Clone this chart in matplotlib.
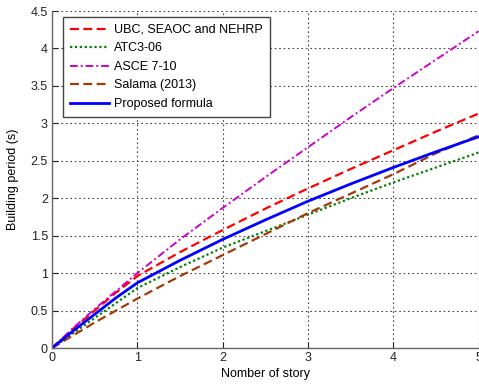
import matplotlib
matplotlib.use('Agg')
from matplotlib import pyplot as plt

plt.rcParams['font.family'] = ['Liberation Sans', 'DejaVu Sans']

stories = [0, 0.25, 0.5, 0.75, 1, 1.5, 2, 2.5, 3, 3.5, 4, 4.5, 5]

ubc = [0, 0.26, 0.50, 0.74, 0.96, 1.28, 1.575, 1.86, 2.13, 2.39, 2.64, 2.89, 3.13]
atc = [0, 0.20, 0.40, 0.60, 0.80, 1.08, 1.34, 1.56, 1.78, 2.00, 2.21, 2.41, 2.61]
asce = [0, 0.27, 0.52, 0.76, 1.00, 1.45, 1.87, 2.28, 2.68, 3.08, 3.47, 3.85, 4.23]
salama = [0, 0.17, 0.34, 0.50, 0.66, 0.96, 1.24, 1.52, 1.80, 2.06, 2.32, 2.60, 2.84]
proposed = [0, 0.23, 0.45, 0.67, 0.87, 1.17, 1.45, 1.71, 1.96, 2.19, 2.41, 2.62, 2.82]

labels = ['UBC, SEAOC and NEHRP', 'ATC3-06', 'ASCE 7-10', 'Salama (2013)', 'Proposed formula']

fig = plt.figure(figsize=(4.79, 3.85), dpi=100)
ax = fig.add_axes([0.1086, 0.0961, 0.8904, 0.8753])

ax.plot(stories, ubc, color='#ff0000', ls=(0, (4, 2)), lw=1.6, label=labels[0])
ax.plot(stories, atc, color='#008000', ls=(0, (1, 1.2)), lw=1.6, label=labels[1])
ax.plot(stories, asce, color='#cc00cc', ls=(0, (4, 1.5, 1, 1.5)), lw=1.4, label=labels[2])
ax.plot(stories, salama, color='#a33a0a', ls=(0, (4, 2)), lw=1.6, label=labels[3])
ax.plot(stories, proposed, color='#0000ff', ls='-', lw=2.0, label=labels[4])

ax.set_xlim(0, 5)
ax.set_ylim(0, 4.5)
ax.set_xticks([0, 1, 2, 3, 4, 5])
ax.set_yticks([0, 0.5, 1, 1.5, 2, 2.5, 3, 3.5, 4, 4.5])
ax.set_yticklabels(['0', '0.5', '1', '1.5', '2', '2.5', '3', '3.5', '4', '4.5'])
ax.grid(True, color='#444444', ls=(0, (1.5, 2.5)), lw=0.8)
ax.tick_params(direction='in', length=4, labelsize=9, colors='#222222', pad=3)
ax.tick_params(top=False, right=False)
for side in ['top', 'right']:
    ax.spines[side].set_visible(False)
for side in ['left', 'bottom']:
    ax.spines[side].set_color('#666666')
    ax.spines[side].set_linewidth(1.0)

ax.set_xlabel('Nomber of story', fontsize=9, labelpad=3)
ax.set_ylabel('Building period (s)', fontsize=9, labelpad=8)

leg = ax.legend(loc='upper left', bbox_to_anchor=(0.026, 0.982), borderaxespad=0,
                fontsize=9, handlelength=3.1, handletextpad=0.45, labelspacing=0.52,
                fancybox=False, framealpha=1, borderpad=0.55)
leg.get_frame().set_edgecolor('#444444')
leg.get_frame().set_linewidth(1.0)

fig.savefig('out.png', dpi=100)
